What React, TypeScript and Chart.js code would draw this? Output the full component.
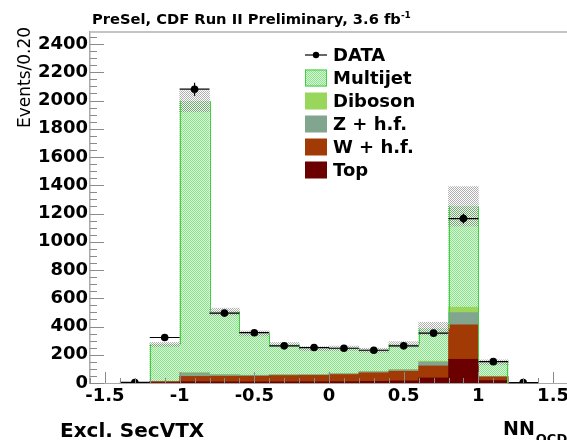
import { useEffect, useRef } from 'react';
import { Chart, registerables } from 'chart.js';

Chart.register(...registerables);

// ---- data ----
const binCenters = [-1.1, -0.9, -0.7, -0.5, -0.3, -0.1, 0.1, 0.3, 0.5, 0.7, 0.9, 1.1];
const topVals = [3, 10, 8, 8, 8, 9, 10, 12, 15, 36, 168, 18];
const wVals = [7, 37, 40, 40, 45, 45, 50, 60, 68, 85, 244, 25];
const zVals = [2, 23, 10, 6, 5, 5, 6, 8, 10, 28, 87, 3];
const dibosonVals = [1, 5, 3, 2, 2, 2, 2, 3, 3, 6, 38, 2];
const multijetVals = [260, 1920, 444, 295, 212, 182, 178, 148, 177, 230, 713, 98];
const mcUncert = [15, 75, 25, 18, 15, 15, 16, 15, 20, 45, 140, 18];
const dataX = [-1.3, -1.1, -0.9, -0.7, -0.5, -0.3, -0.1, 0.1, 0.3, 0.5, 0.7, 0.9, 1.1, 1.3];
const dataY = [4, 322, 2080, 495, 356, 263, 251, 246, 232, 263, 353, 1164, 151, 3];
const binWidth = 0.2;
const xTickValues = [-1.5, -1, -0.5, 0, 0.5, 1, 1.5];
const yTickValues = [0, 200, 400, 600, 800, 1000, 1200, 1400, 1600, 1800, 2000, 2200, 2400];
const xMin = -1.6;
const xMax = 1.6;
const yMax = 2485;

const titleText = 'PreSel, CDF Run II Preliminary, 3.6 fb';
const titleSup = '-1';
const yTitle = 'Events/0.20';
const xTitleLeft = 'Excl. SecVTX';
const xTitleRight = 'NN';
const xTitleRightSub = 'QCD';

const colTop = '#6b0000';
const colW = '#a23a06';
const colZ = '#82a590';
const colDiboson = '#99d65c';
const colMultijetLine = '#3fcf3f';

const BOLD = '"DejaVu Sans", "Liberation Sans", sans-serif';

function makePattern(ctx: CanvasRenderingContext2D, a: string, b: string): CanvasPattern {
  const t = document.createElement('canvas');
  t.width = 2;
  t.height = 2;
  const c = t.getContext('2d')!;
  c.clearRect(0, 0, 2, 2);
  c.fillStyle = a;
  c.fillRect(0, 0, 1, 1);
  c.fillRect(1, 1, 1, 1);
  c.fillStyle = b;
  c.fillRect(1, 0, 1, 1);
  c.fillRect(0, 1, 1, 1);
  return ctx.createPattern(t, 'repeat')!;
}

export default function App() {
  const ref = useRef<HTMLCanvasElement>(null);

  useEffect(() => {
    const canvas = ref.current!;
    const ctx0 = canvas.getContext('2d')!;
    const multijetPattern = makePattern(ctx0, '#8fe08f', '#d6f7d6');
    const bandPattern = makePattern(ctx0, 'rgba(110,110,110,0.55)', 'rgba(255,255,255,0.45)');

    const totals = binCenters.map(
      (_, i) => topVals[i] + wVals[i] + zVals[i] + dibosonVals[i] + multijetVals[i]
    );

    const overlay = {
      id: 'rootStyle',
      afterDatasetsDraw(chart: any) {
        const ctx: CanvasRenderingContext2D = chart.ctx;
        const xs = chart.scales.x;
        const ys = chart.scales.y;
        const area = chart.chartArea;
        ctx.save();
        // histogram outline (step line) of the stack, left/right edges
        ctx.strokeStyle = colMultijetLine;
        ctx.lineWidth = 1;
        ctx.beginPath();
        binCenters.forEach((x, i) => {
          const prev = i > 0 ? totals[i - 1] : 0;
          const lx = Math.round(xs.getPixelForValue(x - binWidth / 2)) + 0.5;
          ctx.moveTo(lx, ys.getPixelForValue(prev));
          ctx.lineTo(lx, ys.getPixelForValue(totals[i]));
        });
        const lastX = Math.round(xs.getPixelForValue(binCenters[binCenters.length - 1] + binWidth / 2)) - 0.5;
        ctx.moveTo(lastX, ys.getPixelForValue(totals[totals.length - 1]));
        ctx.lineTo(lastX, ys.getPixelForValue(0));
        ctx.stroke();
        // data error bars
        ctx.strokeStyle = '#000';
        ctx.lineWidth = 1.2;
        dataX.forEach((x, i) => {
          const v = dataY[i];
          const e = Math.sqrt(v);
          const px = xs.getPixelForValue(x);
          const py = ys.getPixelForValue(v);
          ctx.beginPath();
          ctx.moveTo(xs.getPixelForValue(x - binWidth / 2), py);
          ctx.lineTo(xs.getPixelForValue(x + binWidth / 2), py);
          ctx.moveTo(px, ys.getPixelForValue(v + e));
          ctx.lineTo(px, ys.getPixelForValue(Math.max(0, v - e)));
          ctx.stroke();
        });
        // inner ticks (ROOT style)
        ctx.strokeStyle = '#8a8a8a';
        ctx.lineWidth = 1;
        ctx.beginPath();
        for (let k = Math.round(xMin * 10); k <= Math.round(xMax * 10); k++) {
          const v = k / 10;
          const px = Math.round(xs.getPixelForValue(v)) + 0.5;
          const major = k % 5 === 0;
          ctx.moveTo(px, area.bottom);
          ctx.lineTo(px, area.bottom - (major ? 11 : 5));
        }
        for (let v = 0; v <= yMax; v += 50) {
          const py = Math.round(ys.getPixelForValue(v)) + 0.5;
          const major = v % 200 === 0;
          ctx.moveTo(area.left, py);
          ctx.lineTo(area.left + (major ? 14 : 7), py);
        }
        ctx.stroke();
        // frame top
        ctx.strokeStyle = '#c4c4c4';
        ctx.lineWidth = 2;
        ctx.beginPath();
        ctx.moveTo(area.left, area.top);
        ctx.lineTo(area.right, area.top);
        ctx.lineTo(area.right, area.bottom);
        ctx.stroke();
        ctx.restore();
      },
      afterDraw(chart: any) {
        const ctx: CanvasRenderingContext2D = chart.ctx;
        ctx.save();
        ctx.fillStyle = '#000';
        ctx.textAlign = 'left';
        ctx.textBaseline = 'alphabetic';
        // title
        ctx.font = `bold 14.7px ${BOLD}`;
        ctx.fillText(titleText, 92, 24);
        const tw = ctx.measureText(titleText).width;
        ctx.font = `bold 9px ${BOLD}`;
        ctx.fillText(titleSup, 92 + tw, 18);
        // y title
        ctx.save();
        ctx.translate(30, 128);
        ctx.rotate(-Math.PI / 2);
        ctx.font = `17px ${BOLD}`;
        ctx.fillText(yTitle, 0, 0);
        ctx.restore();
        // x titles
        ctx.font = `bold 20px ${BOLD}`;
        ctx.fillText(xTitleLeft, 60, 437);
        ctx.font = `bold 19px ${BOLD}`;
        ctx.fillText(xTitleRight, 503, 435);
        const nw = ctx.measureText(xTitleRight).width;
        ctx.font = `bold 13px ${BOLD}`;
        ctx.fillText(xTitleRightSub, 503 + nw + 1, 443);

        // legend
        const ds = chart.data.datasets;
        const find = (label: string) => ds.find((d: any) => d.label === label);
        const items = ['DATA', 'Multijet', 'Diboson', 'Z + h.f.', 'W + h.f.', 'Top'];
        const bx = 305;
        const bw = 22;
        const bh = 17;
        ctx.font = `bold 18px ${BOLD}`;
        items.forEach((label, i) => {
          const cy = 55 + i * 23;
          const d = find(label);
          if (label === 'DATA') {
            ctx.strokeStyle = '#000';
            ctx.lineWidth = 1.2;
            ctx.beginPath();
            ctx.moveTo(bx, cy);
            ctx.lineTo(bx + bw, cy);
            ctx.stroke();
            ctx.beginPath();
            ctx.arc(bx + bw / 2, cy, 3.2, 0, Math.PI * 2);
            ctx.fillStyle = '#000';
            ctx.fill();
          } else if (d) {
            ctx.fillStyle = d.backgroundColor;
            ctx.fillRect(bx, cy - bh / 2, bw, bh);
            if (label === 'Multijet') {
              ctx.strokeStyle = colMultijetLine;
              ctx.lineWidth = 1;
              ctx.strokeRect(bx + 0.5, cy - bh / 2 + 0.5, bw - 1, bh - 1);
            }
          }
          ctx.fillStyle = '#000';
          ctx.textBaseline = 'middle';
          ctx.fillText(label, 333, cy + 1);
        });
        ctx.restore();
      },
    };

    const stackDs = (label: string, vals: number[], color: any) => ({
      type: 'bar',
      label,
      data: binCenters.map((x, i) => ({ x, y: vals[i] })),
      backgroundColor: color,
      borderWidth: 0,
      order: 2,
    });

    const chart = new Chart(canvas, {
      type: 'bar',
      data: {
        datasets: [
          stackDs('Top', topVals, colTop),
          stackDs('W + h.f.', wVals, colW),
          stackDs('Z + h.f.', zVals, colZ),
          stackDs('Diboson', dibosonVals, colDiboson),
          stackDs('Multijet', multijetVals, multijetPattern),
          {
            type: 'bar',
            label: 'MC uncertainty',
            stack: 'band',
            data: binCenters.map((x, i) => ({ x, y: [totals[i] - mcUncert[i], totals[i] + mcUncert[i]] })),
            backgroundColor: bandPattern,
            borderWidth: 0,
            order: 1,
          },
          {
            type: 'scatter',
            label: 'DATA',
            data: dataX.map((x, i) => ({ x, y: dataY[i] })),
            backgroundColor: '#000',
            borderColor: '#000',
            pointRadius: 3.8,
            pointBorderWidth: 0,
            order: 0,
          },
        ] as any,
      },
      options: {
        responsive: false,
        animation: false,
        devicePixelRatio: 1,
        layout: { padding: { top: 32, right: 32, left: 0, bottom: 0 } },
        plugins: {
          legend: { display: false },
          title: { display: false },
          tooltip: { enabled: false },
        },
        datasets: {
          bar: { grouped: false, barPercentage: 1, categoryPercentage: 1 },
        } as any,
        scales: {
          x: {
            type: 'linear',
            min: xMin,
            max: xMax,
            offset: false,
            grid: { display: false, drawTicks: false },
            border: { display: true, color: '#a8a8a8', width: 1 },
            ticks: {
              autoSkip: false,
              maxRotation: 0,
              padding: 3,
              color: '#000',
              font: { family: BOLD, size: 18, weight: 'bold' },
              callback: (v: any) => String(v),
            },
            afterBuildTicks: (s: any) => {
              s.ticks = xTickValues.map((value) => ({ value }));
            },
            afterFit: (s: any) => {
              s.height = 57;
            },
          },
          y: {
            stacked: true,
            min: 0,
            max: yMax,
            grid: { display: false, drawTicks: false },
            border: { display: true, color: '#a8a8a8', width: 1.5 },
            ticks: {
              autoSkip: false,
              padding: 2,
              color: '#000',
              font: { family: BOLD, size: 18, weight: 'bold' },
              callback: (v: any) => String(v),
            },
            afterBuildTicks: (s: any) => {
              s.ticks = yTickValues.map((value) => ({ value }));
            },
            afterFit: (s: any) => {
              s.width = 90;
            },
          },
        } as any,
      },
      plugins: [overlay],
    } as any);

    return () => chart.destroy();
  }, []);

  return (
    <div style={{ position: 'fixed', left: 0, top: 0, width: 600, height: 440, background: '#fff' }}>
      <canvas ref={ref} width={600} height={440} style={{ width: 600, height: 440, display: 'block' }} />
    </div>
  );
}
